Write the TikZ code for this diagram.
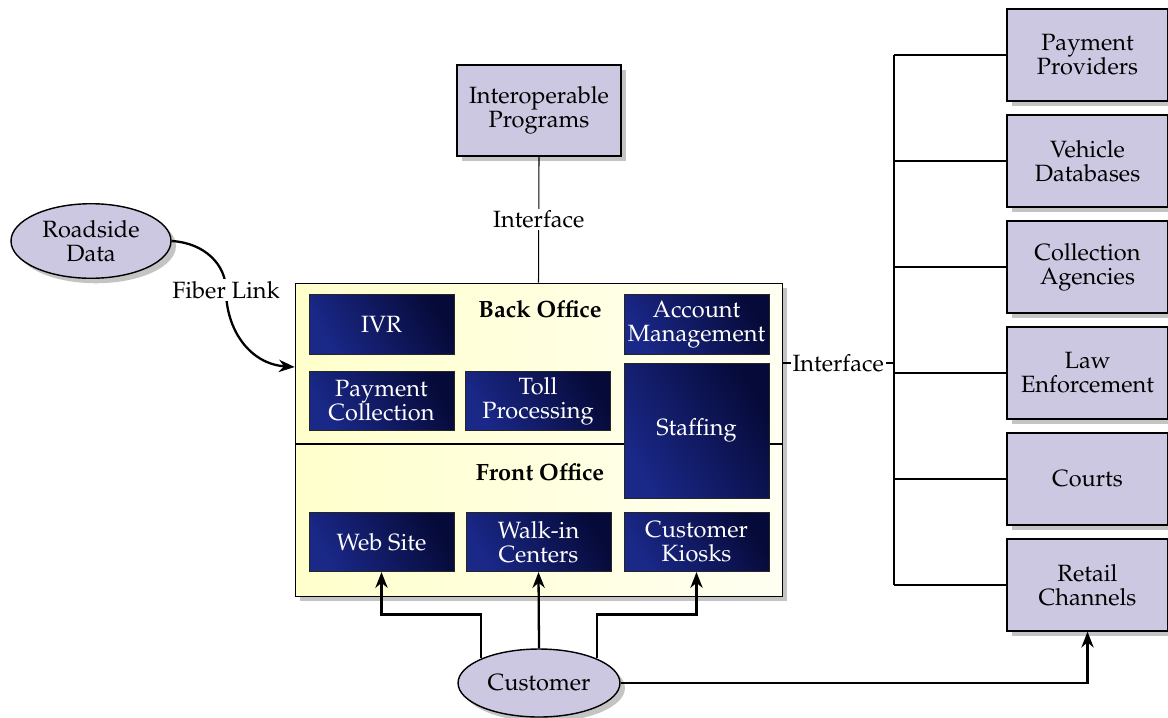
\documentclass[tikz,border=0pt]{standalone}
\usepackage[T1]{fontenc}
\usepackage{mathpazo}
\usepackage{tikz}
\usetikzlibrary{shapes.geometric,shadows,arrows.meta}
\definecolor{lavender}{RGB}{204,200,226}
\definecolor{cream}{RGB}{255,255,204}
\definecolor{creamlight}{RGB}{255,255,242}
\definecolor{navylight}{RGB}{26,40,136}
\definecolor{navydark}{RGB}{6,10,56}
\definecolor{shadowgrey}{RGB}{196,196,196}
\def\boxfont{\fontsize{13.4}{13.6}\selectfont}

\begin{document}
\begin{tikzpicture}[x=0.02cm, y=-0.02cm,
    every node/.style={font=\boxfont, align=center},
    greyshadow/.style={drop shadow={shadow xshift=0.1cm, shadow yshift=-0.1cm, fill=shadowgrey, opacity=1}},
    partner/.style={draw, thick, fill=lavender, minimum width=3.22cm, minimum height=1.84cm, greyshadow},
    actor/.style={draw, thick, ellipse, fill=lavender, minimum width=3.2cm, minimum height=1.42cm, greyshadow},
    officearea/.style={draw, left color=cream, right color=creamlight, minimum width=9.74cm, minimum height=6.26cm, greyshadow},
    unit/.style={draw=black!85, left color=navylight, right color=navydark, shading angle=120, text=white, minimum width=2.9cm, minimum height=1.19cm, inner sep=1pt},
    link/.style={line width=0.6pt},
    flow/.style={line width=1.3pt, -{Stealth[length=9pt, width=7pt]}},
    tag/.style={fill=white, inner sep=1pt}]
\useasboundingbox (0,0) rectangle (1168,717);

% back office / front office area
\node[officearea] (office) at (538.5,439.5) {};
\draw[link] (office.west |- 0,444) -- (office.east |- 0,444);
\node[font=\boxfont\bfseries] (back) at (540,309) {Back Office};
\node[font=\boxfont\bfseries] (front) at (540,472) {Front Office};

\node[unit] (ivr) at (381.5,324.5) {IVR};
\node[unit] (acct) at (696.5,324.5) {Account\\Management};
\node[unit] (paycoll) at (381.5,401) {Payment\\Collection};
\node[unit] (toll) at (538,401) {Toll\\Processing};
\node[unit, minimum height=2.7cm] (staff) at (696.5,430.5) {Staffing};
\node[unit] (web) at (381.5,542) {Web Site};
\node[unit] (walkin) at (538.5,542) {Walk-in\\Centers};
\node[unit] (kiosk) at (696.5,542) {Customer\\Kiosks};

% outside parties
\node[partner, minimum width=3.28cm, minimum height=1.82cm] (interop) at (539,110.5) {Interoperable\\Programs};
\node[actor] (roadside) at (91,241) {Roadside\\Data};
\node[actor, minimum height=1.36cm] (cust) at (539,683) {Customer};

\foreach \y/\n/\t in {55/pay/{Payment\\Providers}, 161/vehicle/{Vehicle\\Databases},
    267/collect/{Collection\\Agencies}, 373/law/{Law\\Enforcement},
    479/courts/{Courts}, 585/retail/{Retail\\Channels}}
  \node[partner] (\n) at (1087.5,\y) {\t};

% interfaces
\draw[link] (interop.south) -- node[tag] {Interface} (office.north);
\coordinate (ifout) at (office.east |- 0,363);
\coordinate (bus) at (894,363);
\draw[link] (ifout) -- node[tag] {Interface} (bus);
\draw[link] (bus |- pay) -- (bus |- retail);
\foreach \n in {pay,vehicle,collect,law,courts,retail}
  \draw[link] (bus |- \n) -- (\n.west);

% fiber link
\coordinate (fibrein) at (office.west |- 0,367);
\draw[flow] (roadside.east) .. controls (205,243) and (226,265) .. (226,290)
  node[tag] {Fiber Link}
  .. controls (226,330) and (250,364) .. (fibrein);

% customer access
\draw[flow] (cust.north west) -- ++(0,-44) -| (web.south);
\draw[flow] (cust.north) -- (walkin.south);
\draw[flow] (cust.north east) -- ++(0,-44) -| (kiosk.south);
\draw[flow] (cust.east) -| (retail.south);
\end{tikzpicture}
\end{document}
